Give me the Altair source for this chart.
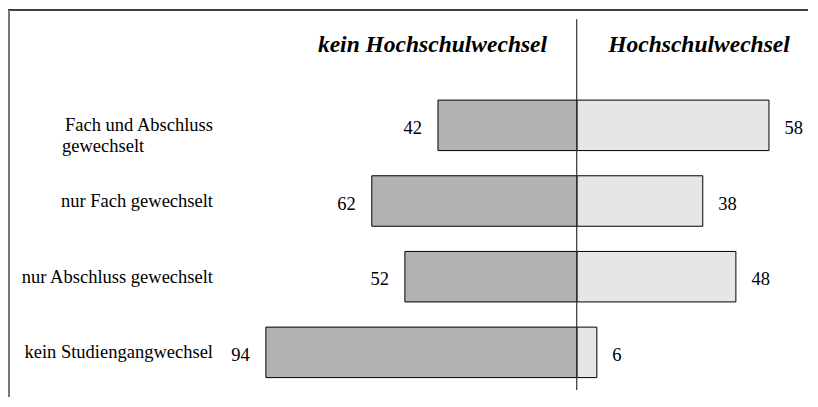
import altair as alt
import pandas as pd

categories = ["Fach und Abschluss", "nur Fach gewechselt", "nur Abschluss gewechselt", "kein Studiengangwechsel"]
continuation = ["gewechselt", "", "", ""]
kein_hw = [42, 62, 52, 94]
hw = [58, 38, 48, 6]
titles = ["kein Hochschulwechsel", "Hochschulwechsel"]

FONT = "Liberation Serif, Times New Roman, serif"

left = pd.DataFrame({"cat": categories, "x": [-v for v in kein_hw], "x2": [0] * 4, "val": kein_hw})
right = pd.DataFrame({"cat": categories, "x": [0] * 4, "x2": hw, "val": hw})
labels = pd.DataFrame({"cat": categories, "line1": categories, "line2": continuation})
one = pd.DataFrame({"a": [0]})

xscale = alt.Scale(domain=[-100, 100], range=[238, 900], nice=False, zero=False)
yscale = alt.Scale(domain=categories, range=[79.5, 382.2], paddingInner=0.333, paddingOuter=0.1665)

Y = alt.Y("cat:N", scale=yscale, axis=None, sort=categories)

bars_left = alt.Chart(left).mark_bar(color="#b2b2b2", stroke="#000000", strokeWidth=1).encode(
    x=alt.X("x:Q", scale=xscale, axis=None), x2="x2:Q", y=Y
)
bars_right = alt.Chart(right).mark_bar(color="#e6e6e6", stroke="#000000", strokeWidth=1).encode(
    x=alt.X("x:Q", scale=xscale, axis=None), x2="x2:Q", y=Y
)

val_left = alt.Chart(left).mark_text(font=FONT, fontSize=18.5, align="right", baseline="alphabetic", dx=-16, dy=8.5, color="#000000").encode(
    x=alt.X("x:Q", scale=xscale, axis=None), y=Y, text="val:Q"
)
val_right = alt.Chart(right).mark_text(font=FONT, fontSize=18.5, align="left", baseline="alphabetic", dx=15.5, dy=8.5, color="#000000").encode(
    x=alt.X("x2:Q", scale=xscale, axis=None), y=Y, text="val:Q"
)

cat_main = alt.Chart(labels).mark_text(font=FONT, fontSize=18.5, align="right", baseline="alphabetic", dy=6, color="#000000").encode(
    x=alt.value(205), y=Y, text="line1:N"
)
cat_cont = alt.Chart(labels).mark_text(font=FONT, fontSize=18.5, align="left", baseline="alphabetic", dy=26.5, color="#000000").encode(
    x=alt.value(54), y=Y, text="line2:N"
)

title_left = alt.Chart(one).mark_text(font=FONT, fontSize=23.5, fontWeight="bold", fontStyle="italic", align="center", baseline="alphabetic", color="#000000").encode(
    x=alt.value(424.5), y=alt.value(43.5), text=alt.value(titles[0])
)
title_right = alt.Chart(one).mark_text(font=FONT, fontSize=23.5, fontWeight="bold", fontStyle="italic", align="center", baseline="alphabetic", color="#000000").encode(
    x=alt.value(691), y=alt.value(43.5), text=alt.value(titles[1])
)

center_line = alt.Chart(one).mark_rule(color="#333333", strokeWidth=1.2).encode(
    x=alt.value(568.7), y=alt.value(11.3), y2=alt.value(382)
)
frame_top = alt.Chart(one).mark_rule(color="#000000", strokeWidth=1.5).encode(
    x=alt.value(0), x2=alt.value(800), y=alt.value(2)
)
frame_left = alt.Chart(one).mark_rule(color="#777777", strokeWidth=2).encode(
    x=alt.value(1), y=alt.value(2), y2=alt.value(389)
)

chart = alt.layer(
    bars_left, bars_right, center_line, val_left, val_right, cat_main, cat_cont,
    title_left, title_right, frame_top, frame_left
).properties(
    width=800, height=389, padding=0,
    autosize=alt.AutoSizeParams(type="none"),
    background="#ffffff"
).configure_view(stroke=None)

chart.save("out.html", embed_options={"renderer": "svg", "actions": False})
